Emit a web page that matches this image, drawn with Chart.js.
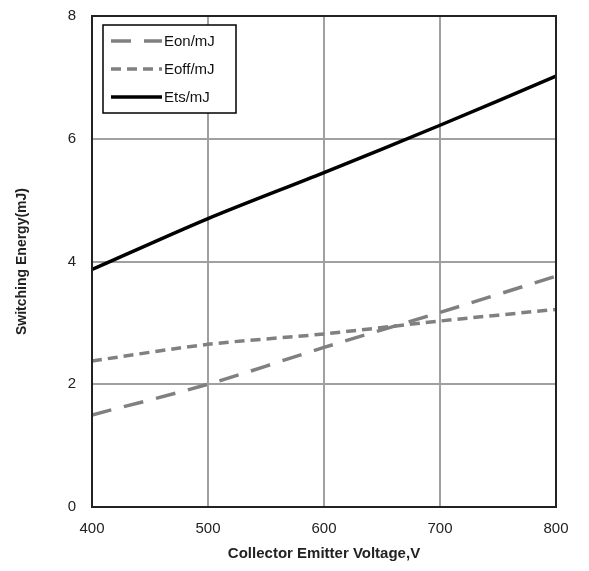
<!DOCTYPE html>
<html>
<head>
<meta charset="utf-8">
<script src="https://cdn.jsdelivr.net/npm/chart.js@4"></script>
<style>
  html, body { margin: 0; padding: 0; background: #fff; }
  #wrap { width: 589px; height: 571px; }
</style>
</head>
<body>
<div id="wrap"><canvas id="chart" width="589" height="571"></canvas></div>
<script>
// valores
const voltage = [400, 500, 600, 700, 800];
const eon = [1.5, 2.0, 2.6, 3.17, 3.76];
const eoff = [2.38, 2.65, 2.82, 3.03, 3.22];
const ets = [3.87, 4.7, 5.45, 6.22, 7.02];
const xTicks = [400, 500, 600, 700, 800];
const yTicks = [0, 2, 4, 6, 8];

const fontFam = '"Liberation Sans", Arial, sans-serif';

// legenda desenhada dentro da area do grafico
const boxLegend = {
  id: 'boxLegend',
  afterDraw(chart) {
    const ctx = chart.ctx;
    const a = chart.chartArea;
    const x0 = a.left + 11, y0 = a.top + 9, w = 133, h = 88;
    ctx.save();
    ctx.fillStyle = '#fff';
    ctx.fillRect(x0, y0, w, h);
    ctx.strokeStyle = '#000';
    ctx.lineWidth = 1.5;
    ctx.strokeRect(x0, y0, w, h);
    chart.data.datasets.forEach((ds, i) => {
      const y = y0 + 16 + i * 28;
      ctx.beginPath();
      ctx.strokeStyle = ds.borderColor;
      ctx.lineWidth = ds.borderWidth;
      ctx.setLineDash(ds.borderDash || []);
      ctx.moveTo(x0 + 8, y);
      ctx.lineTo(x0 + 59, y);
      ctx.stroke();
      ctx.setLineDash([]);
      ctx.fillStyle = '#111';
      ctx.font = '15px ' + fontFam;
      ctx.textBaseline = 'middle';
      ctx.fillText(ds.label, x0 + 61, y + 1);
    });
    ctx.restore();
  }
};

new Chart(document.getElementById('chart'), {
  type: 'line',
  data: {
    datasets: [
      {
        label: 'Eon/mJ',
        data: voltage.map((v, i) => ({ x: v, y: eon[i] })),
        borderColor: '#808080',
        borderWidth: 3.5,
        borderDash: [20, 13],
        pointRadius: 0,
        tension: 0.3
      },
      {
        label: 'Eoff/mJ',
        data: voltage.map((v, i) => ({ x: v, y: eoff[i] })),
        borderColor: '#808080',
        borderWidth: 3.5,
        borderDash: [10, 6],
        pointRadius: 0,
        tension: 0.3
      },
      {
        label: 'Ets/mJ',
        data: voltage.map((v, i) => ({ x: v, y: ets[i] })),
        borderColor: '#000',
        borderWidth: 3.5,
        pointRadius: 0,
        tension: 0.3
      }
    ]
  },
  options: {
    responsive: false,
    animation: false,
    layout: { padding: { top: 16, right: 33, left: 14, bottom: 0 } },
    plugins: { legend: { display: false }, tooltip: { enabled: false } },
    scales: {
      x: {
        type: 'linear',
        min: 400,
        max: 800,
        afterBuildTicks: s => { s.ticks = xTicks.map(v => ({ value: v })); },
        afterFit: s => { s.height = 64; s.paddingLeft = 0; s.paddingRight = 0; },
        border: { color: '#222', width: 2 },
        grid: { color: '#a0a0a0', lineWidth: 2, drawTicks: false },
        ticks: { color: '#222', font: { size: 15, family: fontFam }, padding: 13 },
        title: {
          display: true,
          text: 'Collector Emitter Voltage,V',
          color: '#222',
          font: { size: 15, weight: 'bold', family: fontFam },
          padding: { top: 2, bottom: 8 }
        }
      },
      y: {
        min: 0,
        max: 8,
        afterBuildTicks: s => { s.ticks = yTicks.map(v => ({ value: v })); },
        afterFit: s => { s.width = 78; s.paddingTop = 0; s.paddingBottom = 0; },
        border: { color: '#222', width: 2 },
        grid: { color: '#a0a0a0', lineWidth: 2, drawTicks: false },
        ticks: { color: '#222', font: { size: 15, family: fontFam }, padding: 16 },
        title: {
          display: true,
          text: 'Switching Energy(mJ)',
          color: '#222',
          font: { size: 14, weight: 'bold', family: fontFam },
          padding: { top: 0, bottom: 0 }
        }
      }
    }
  },
  plugins: [boxLegend, {
    id: 'frame',
    afterDraw(chart) {
      const a = chart.chartArea, ctx = chart.ctx;
      ctx.save();
      ctx.strokeStyle = '#222';
      ctx.lineWidth = 2;
      ctx.strokeRect(a.left, a.top, a.right - a.left, a.bottom - a.top);
      ctx.restore();
    }
  }]
});
</script>
</body>
</html>
